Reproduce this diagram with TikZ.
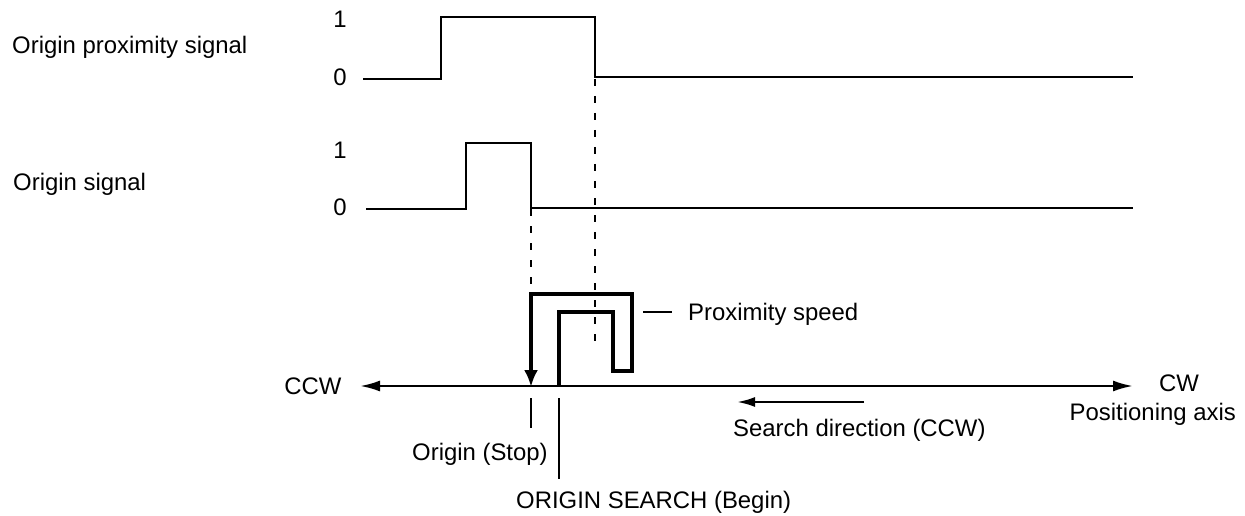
\documentclass[tikz,border=0pt]{standalone}
\usepackage{fontspec}
\setmainfont{Liberation Sans}
\usetikzlibrary{arrows.meta,positioning}
\definecolor{Ink}{HTML}{000000}
\tikzset{
  caption/.style={
    font=\fontsize{23.9}{28}\selectfont, text=Ink, inner sep=0pt
  },
  wave/.style={line width=2.4pt, draw=Ink, line join=miter},
  guide/.style={line width=2.2pt, draw=Ink, dash pattern=on 7pt off 10pt},
  tick/.style={line width=2.4pt, draw=Ink},
  speed/.style={line width=4pt, draw=Ink, line join=miter,
    -{Latex[length=17pt,width=14pt]}},
  axisline/.style={line width=2.4pt, draw=Ink,
    {Latex[length=20pt,width=11pt]}-{Latex[length=20pt,width=11pt]}},
  searchflow/.style={line width=2.4pt, draw=Ink, -{Latex[length=18pt,width=10pt]}}
}

\begin{document}
\begin{tikzpicture}[x=1pt,y=-1pt]
    \useasboundingbox (0,0) rectangle (1245,516);
    % signal names and levels
    \node[caption,anchor=base west] (proxname) at (12,54) {Origin proximity signal};
    \node[caption] (prox1) at (340,19) {1};
    \node[caption] (prox0) at (340,77) {0};
    \node[caption,anchor=base west] (orgname) at (13,190) {Origin signal};
    \node[caption] (org1) at (340,150) {1};
    \node[caption] (org0) at (340,207) {0};
    % waveforms
    \draw[wave] (363,79) -- (441,79) -- (441,17) -- (595,17) -- (595,77) -- (1133,77);
    \draw[wave] (366,209) -- (466,209) -- (466,143) -- (531,143) -- (531,208) -- (1133,208);
    % guide lines
    \draw[guide] (595,79) -- (595,344);
    \draw[guide] (531,209) -- (531,293);
    % positioning axis
    \node[caption] (ccw) at (313,386) {CCW};
    \node[caption] (cw) at (1179,383) {CW};
    \node[caption,anchor=base east] (posaxis) at (1236,420) {Positioning axis};
    \coordinate (axL) at (360,386);
    \coordinate (axR) at (1133,386);
    \draw[axisline] (axL) -- (axR);
    % speed profile
    \draw[speed] (559,386) -- (559,312) -- (613,312) -- (613,371) -- (632,371)
      -- (632,294) -- (531,294) -- (531,387);
    \coordinate (spL) at (643,312);
    \node[caption,anchor=base west] (speedlbl) at (688,320.5) {Proximity speed};
    \draw[tick] (spL) -- (672,312);
    % search direction
    \coordinate (srA) at (864,402);
    \coordinate (srB) at (737,402);
    \draw[searchflow] (srA) -- (srB);
    \node[caption,anchor=base west] (search) at (733,436) {Search direction (CCW)};
    % origin marks
    \draw[tick] (531,398) -- (531,428);
    \node[caption,anchor=base west] (stop) at (412,460) {Origin (Stop)};
    \draw[tick] (559,398) -- (559,479);
    \node[caption,anchor=base west] (begin) at (516,508) {ORIGIN SEARCH (Begin)};
  \end{tikzpicture}
\end{document}
